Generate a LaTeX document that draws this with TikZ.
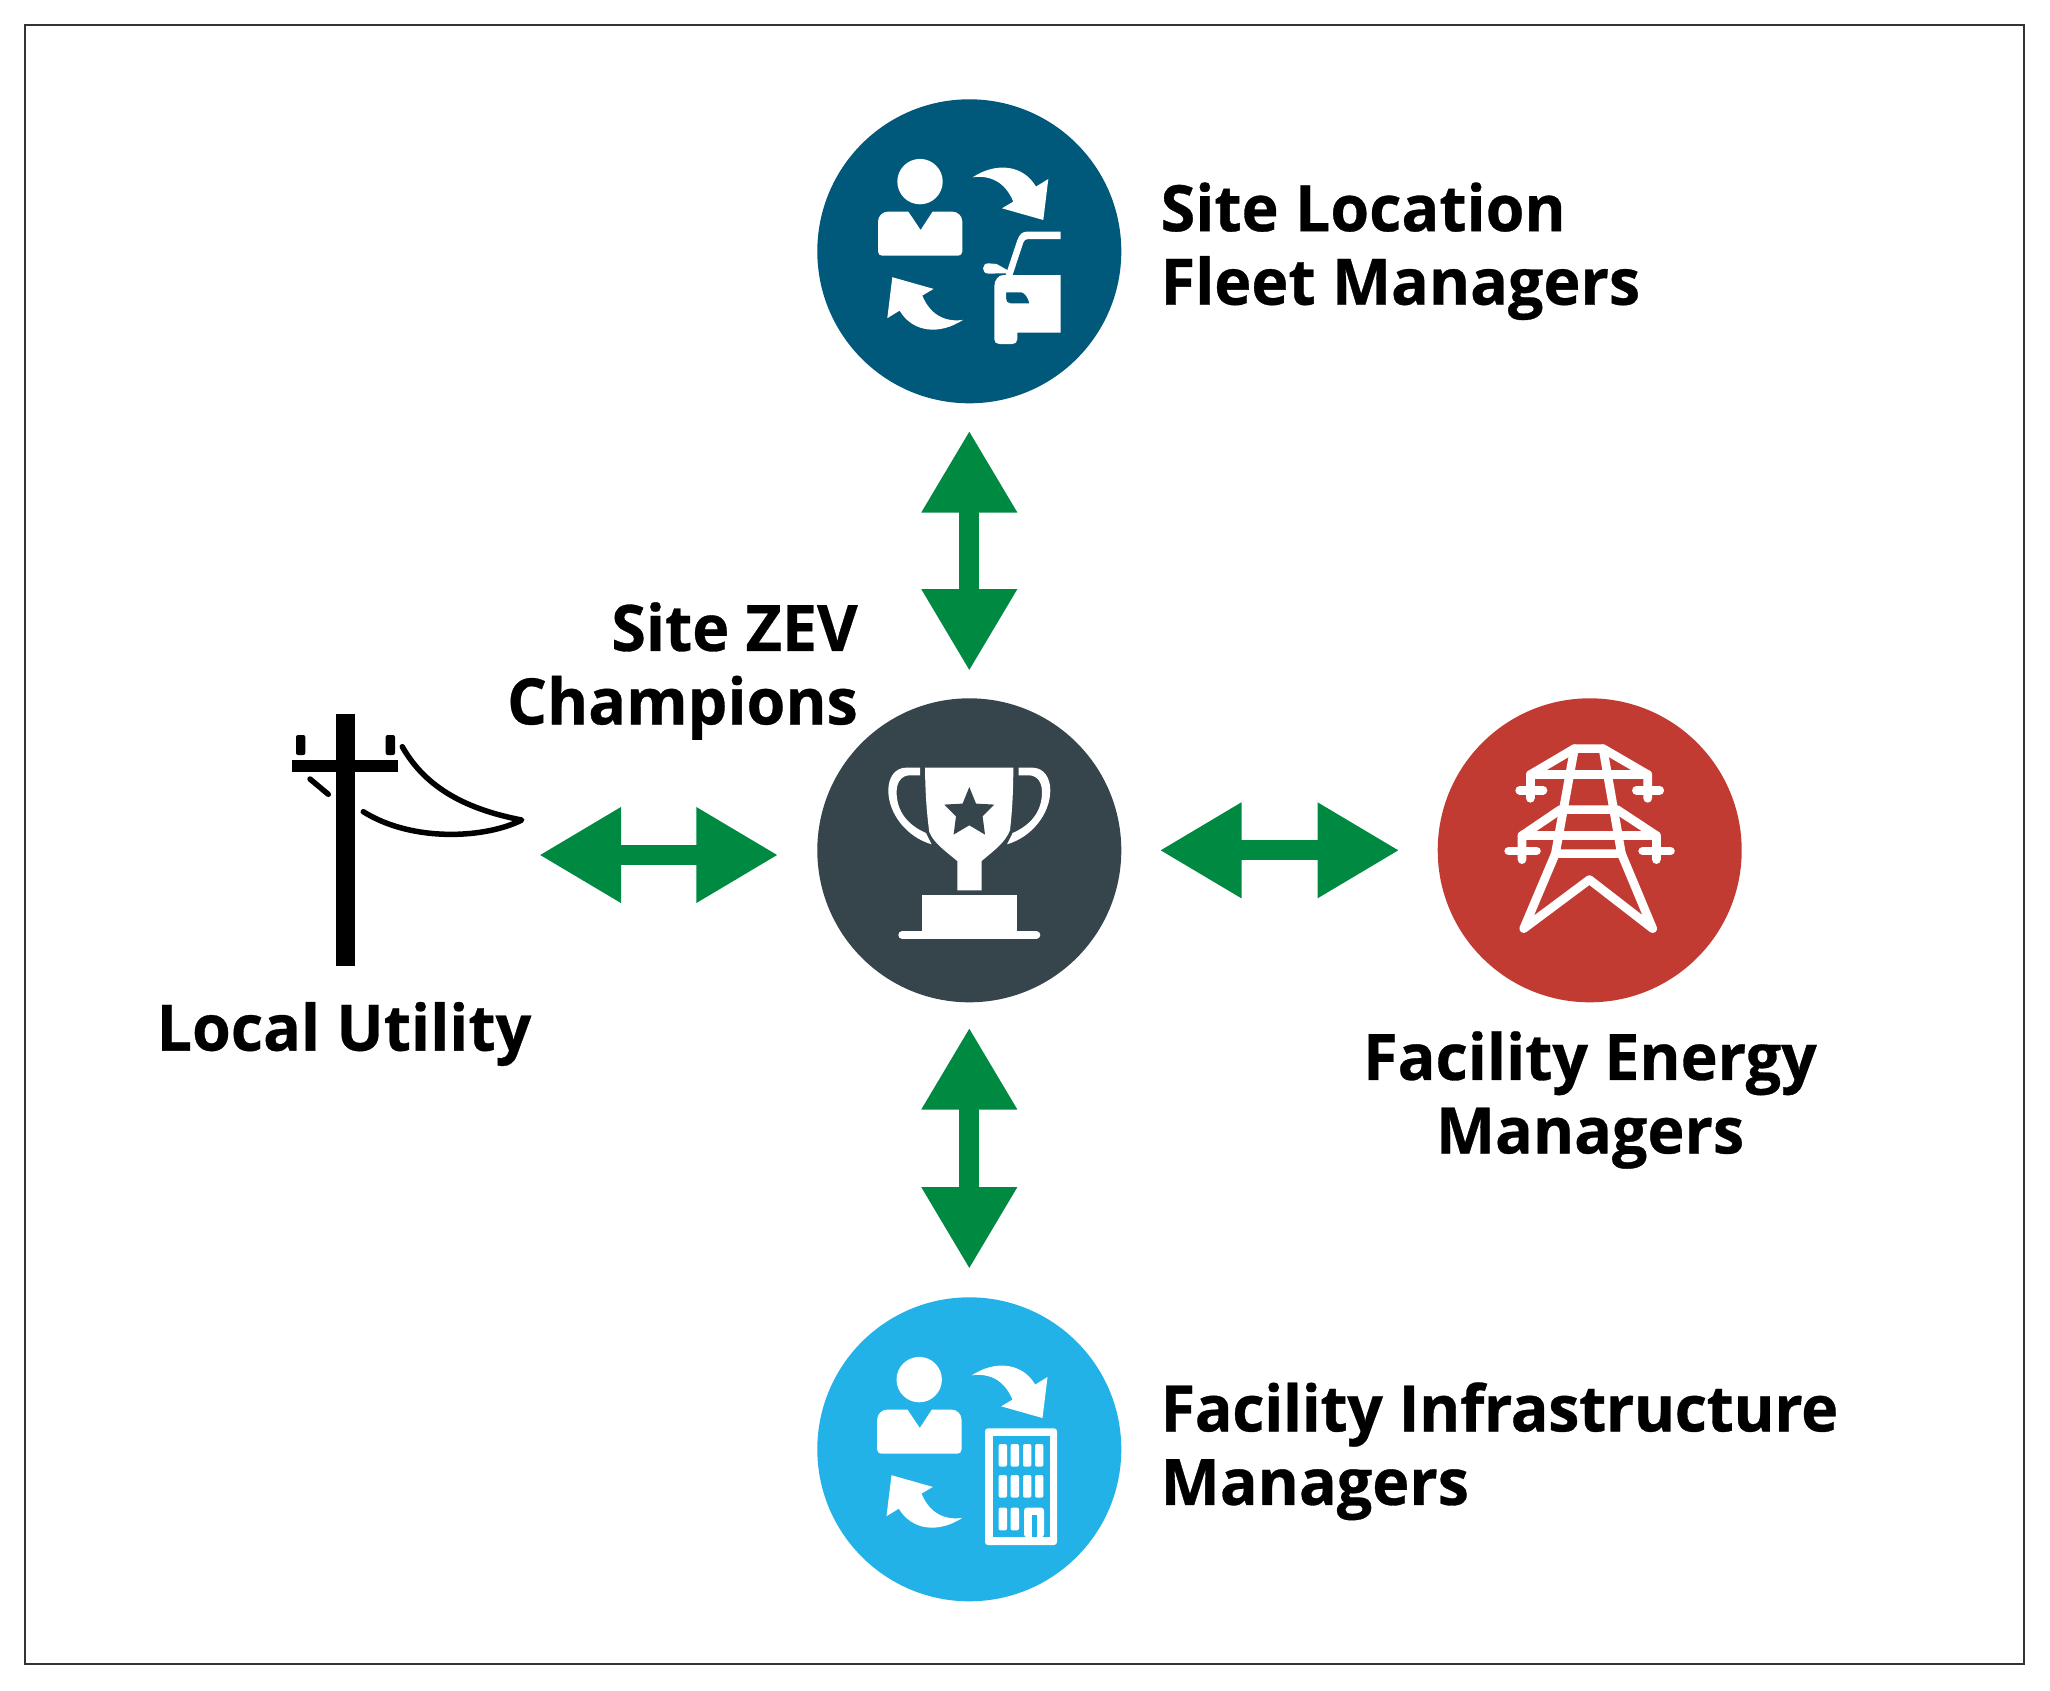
\documentclass[tikz,border=0pt]{standalone}
\usepackage{fontspec}
\setmainfont{Open Sans}[BoldFeatures={FakeStretch=0.98,FakeBold=0.5}]
\usetikzlibrary{
  arrows.meta, % for the big double headed arrows
  positioning, % for relative positioning of the labels
}
\definecolor{fleetcol}{HTML}{00587A}
\definecolor{champcol}{HTML}{36454C}
\definecolor{energycol}{HTML}{C23B33}
\definecolor{infracol}{HTML}{22B2E7}
\definecolor{arrowcol}{HTML}{008940}
\tikzset{
  hub/.style={ % style for each coloured circle
    circle,
    inner sep=0pt,
    minimum size=304pt,
  },
  lbl/.style={ % style for the bold labels
    inner sep=0pt,
    font=\bfseries\fontsize{64}{73.5}\selectfont,
  },
  twoway/.style={ % style for the connections
    {Triangle[length=82pt,width=90pt]}-{Triangle[length=82pt,width=90pt]},
    line width=20pt,
    draw=arrowcol,
  },
  tower/.style={ % style for the strokes of the pylon
    draw=white,
    line width=8.7pt,
    line cap=round,
    line join=round,
  },
  wire/.style={ % style for the thin strokes of the pole
    draw=black,
    line width=5.5pt,
    line cap=round,
    line join=round,
  },
  swapicon/.pic={ % person and the two curved arrows
    \fill[white] (-49.3,-69.7) circle (22.7);
    \fill[white] (-61,-39.7) -- (-81.3,-39.7) .. controls (-87,-39.7) and (-91.3,-35) .. (-91.3,-29.7) -- (-91.3,0.3) .. controls (-91.3,3) and (-89.3,4.3) .. (-87.3,4.3) -- (-11,4.3) .. controls (-9,4.3) and (-7,3) .. (-7,0.3) -- (-7,-29.7) .. controls (-7,-35) and (-11.3,-39.7) .. (-17,-39.7) -- (-36.7,-39.7) -- (-48.7,-21.3) -- cycle;
    \fill[white] (3.3,-74) .. controls (27.3,-89.7) and (54,-86.3) .. (66.7,-64.7) -- (79,-72.3) -- (74,-31.3) -- (32.7,-43) -- (44,-49.7) .. controls (35.7,-69.7) and (20.7,-76.3) .. cycle;
    \begin{scope}[rotate around={180:(-1.5,-2.7)}]
      \fill[white] (3.3,-74) .. controls (27.3,-89.7) and (54,-86.3) .. (66.7,-64.7) -- (79,-72.3) -- (74,-31.3) -- (32.7,-43) -- (44,-49.7) .. controls (35.7,-69.7) and (20.7,-76.3) .. cycle;
    \end{scope}
  },
  handle/.pic={ % one handle of the cup
    \fill[white] (-49.3,-82.7) -- (-62.7,-82.7) .. controls (-75,-82.7) and (-81,-72) .. (-81,-60) .. controls (-81,-36.7) and (-62.7,-13.3) .. (-37.7,-6) -- (-43.3,-17.3) .. controls (-61,-25) and (-72.7,-38.3) .. (-72.7,-58.3) .. controls (-72.7,-68) and (-68,-75) .. (-59.3,-75) -- (-49.3,-75) -- cycle;
  },
}

\begin{document}
\begin{tikzpicture}[x=1pt,y=-1pt,node distance=599pt]
	\useasboundingbox (0,0) rectangle (2050,1690);
	\draw[line width=1.2pt,draw=black!80] (25,25) rectangle (2024,1664);

	\node (fleet) [hub,fill=fleetcol] at (969.3,251.3) {};
	\node (champ) [hub,fill=champcol,below of=fleet] {};
	\node (infra) [hub,fill=infracol,below of=champ] {};
	\node (energy) [hub,fill=energycol,right=316pt of champ] {};
	\coordinate (pole) at (345,855);
	\coordinate (hubside) at (969.3,855);

	\node (fleetlbl) [lbl,align=left,right=39pt of fleet] {Site Location\\Fleet Managers};
	\node (infralbl) [lbl,align=left,right=39pt of infra,yshift=-2pt] {{\addfontfeature{LetterSpace=-0.6}Facility Infrastructure}\\Managers};
	\node (champlbl) [lbl,align=right,anchor=east] at (858,671) {Site ZEV\\Champions};
	\node (utillbl) [lbl] at (344,1034) {Local Utility};
	\node (energylbl) [lbl,align=center] at (1590,1100) {Facility Energy\\Managers};

	\draw[twoway,shorten <=27pt,shorten >=27pt] (fleet) -- (champ);
	\draw[twoway,shorten <=25pt,shorten >=28pt] (champ) -- (infra);
	\draw[twoway,shorten <=38pt,shorten >=38pt] (champ) -- (energy);
	\draw[twoway,shorten <=194pt,shorten >=191pt] (pole) -- (hubside);

	% site location icon
	\pic at (fleet) {swapicon};
	\begin{scope}[shift={(fleet)}]
		\fill[white,even odd rule] (91.3,23.7) -- (91.3,81.3) -- (48,81.3) -- (48,88) .. controls (48,91) and (46,92.7) .. (43,92.7) -- (30,92.7) .. controls (27,92.7) and (25,91) .. (25,88) -- (25,35.3) .. controls (25,29) and (29,23.7) .. (34,23.7) -- cycle
			(36.7,41) -- (52.3,41) .. controls (56,42) and (59,47) .. (60,52) -- (41,52) .. controls (38,52) and (36.7,50) .. (36.7,47) -- cycle;
		\fill[white] (36.4,23.7) -- (48,-11) .. controls (50,-17) and (53,-19.7) .. (58,-19.7) -- (91.3,-19.7) -- (91.3,-12.3) -- (59,-12.3) .. controls (56,-12.3) and (55,-11) .. (54,-8.7) -- (43.3,23.7) -- cycle;
		\fill[white] (19,12) -- (27.3,12.7) -- (38,18.7) -- (38,22) -- (19,22.3) .. controls (12,22.3) and (12,12) .. (19,12) -- cycle;
	\end{scope}

	% facility infrastructure icon
	\pic at ([xshift=-0.8pt]infra) {swapicon};
	\begin{scope}[shift={(infra)}]
		\fill[white,rounded corners=3pt] (15.7,-21) rectangle (87.7,95.7);
		\fill[infracol] (23.3,-13) rectangle (80.3,87.7);
		\foreach \wx in {29.3,41.3,53.7,65.7} {
			\fill[white,rounded corners=2pt] (\wx,-5.3) rectangle +(8.4,22.6);
			\fill[white,rounded corners=2pt] (\wx,25.7) rectangle +(8.4,22.6);
		}
		\foreach \wx in {29.3,41.3} {
			\fill[white,rounded corners=2pt] (\wx,58.3) rectangle +(8.4,22.7);
		}
		\fill[white,rounded corners=3pt] (54.7,88) -- (54.7,58.3) -- (74.7,58.3) -- (74.7,88) -- cycle;
		\fill[infracol] (62.3,66) rectangle (67.3,88);
	\end{scope}

	% trophy icon
	\begin{scope}[shift={(champ)}]
		\fill[white] (-44.3,-82.7) -- (44,-82.7) .. controls (44,-60) and (43,-40) .. (40.7,-20) .. controls (36,-8) and (25,0) .. (12.3,10.7) -- (12.3,40) -- (-12,40) -- (-12,10.7) .. controls (-25,0) and (-36,-8) .. (-40,-18.3) .. controls (-43,-40) and (-44,-60) .. cycle;
		\fill[champcol] (0,-63.3) -- (6.7,-46.7) -- (25,-45.7) -- (13.3,-34) -- (15.7,-15.7) -- (0,-25) -- (-15.7,-15.7) -- (-13.3,-34) -- (-25,-45.7) -- (-6.7,-46.7) -- cycle;
		\pic {handle};
		\pic[xscale=-1] {handle};
		\fill[white] (-47.3,45) rectangle (47.3,81);
		\draw[white,line width=8pt,line cap=round] (-67,84.7) -- (67,84.7);
	\end{scope}

	% pylon icon
	\begin{scope}[shift={(energy)}]
		\draw[tower] (-59.3,-52) -- (-59.3,-75.7) -- (-15.3,-101.7) -- (13.3,-101.7) -- (58,-75.7) -- (58,-52);
		\draw[tower] (-59.3,-75.7) -- (58,-75.7);
		\draw[tower] (-70,-60) -- (-46.7,-60);
		\draw[tower] (46.7,-60) -- (70,-60);
		\draw[tower] (-15.3,-101.7) -- (-34.3,3.3) -- (31.7,3.3) -- (13.3,-101.7);
		\draw[tower] (-67.7,9.3) -- (-67.7,-14.7) -- (-29.3,-40.7) -- (27.3,-40.7) -- (66.7,-14.7) -- (66.7,9.3);
		\draw[tower] (-67.7,-14.7) -- (66.7,-14.7);
		\draw[tower] (-81,0.7) -- (-53.3,0.7);
		\draw[tower] (53,0.7) -- (80.7,0.7);
		\draw[tower] (-34.3,3.3) -- (-66,78.3) -- (-0.3,29.3) -- (63,78.3) -- (31.7,3.3);
	\end{scope}

	% utility pole
	\fill[black] (336,714) rectangle (354.7,965.7);
	\fill[black] (292.3,760.3) rectangle (398.3,772.3);
	\fill[black,rounded corners=2pt] (296,735) rectangle (305.3,755);
	\fill[black,rounded corners=2pt] (385.7,735) rectangle (395,755);
	\draw[wire] (310,779) -- (328.3,794.3);
	\draw[wire] (402.3,746.7) .. controls (426.7,790) and (470,810) .. (521.7,820) .. controls (486.7,838) and (413.3,843) .. (363.3,811.7);
\end{tikzpicture}
\end{document}
